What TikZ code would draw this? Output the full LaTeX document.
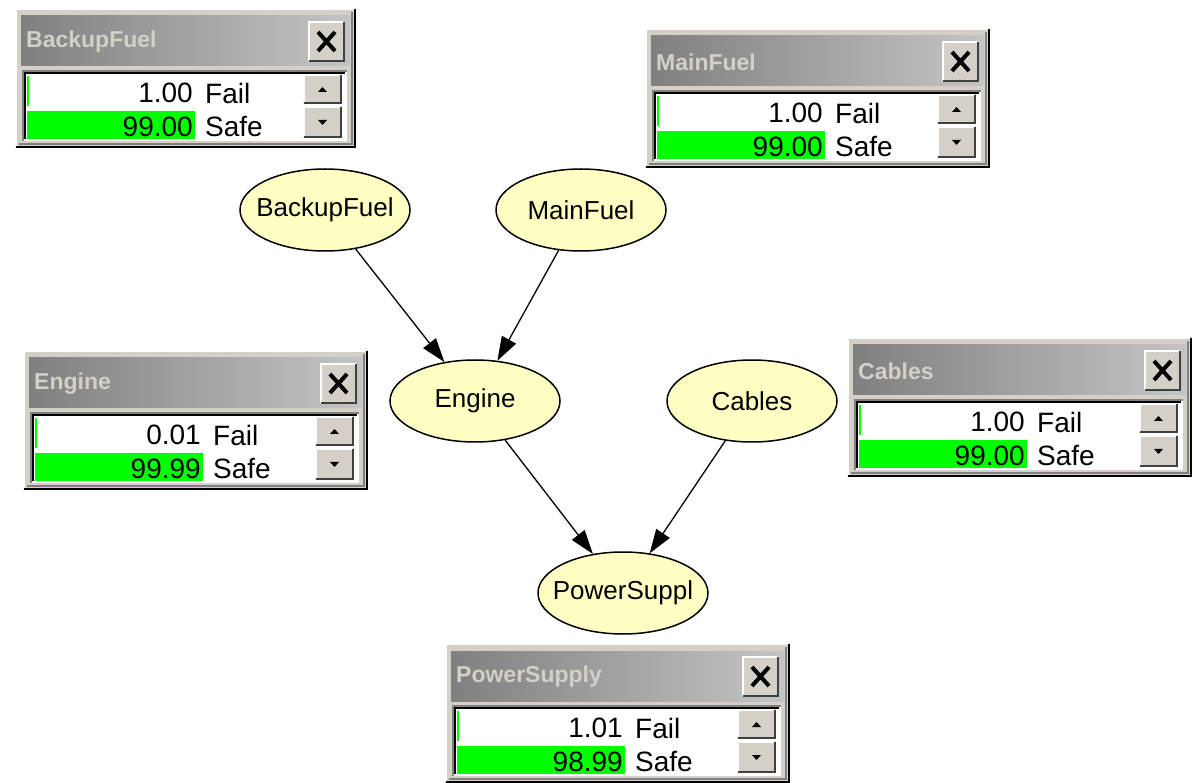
\documentclass[tikz,border=0pt]{standalone}
\usepackage{fontspec}
\setmainfont{Liberation Sans}
\usetikzlibrary{shapes.geometric,arrows.meta}
\definecolor{face}{HTML}{D4D0C8}
\definecolor{nodey}{HTML}{FFFFC4}
\definecolor{gr}{HTML}{00FF00}
\definecolor{dk}{HTML}{404040}
\definecolor{md}{HTML}{808080}
\definecolor{lt}{HTML}{C4C4C4}
\tikzset{
  bnode/.style={ellipse,draw=black,line width=1.5,fill=nodey,minimum width=170,minimum height=82,inner xsep=-14,inner ysep=0,font=\fontsize{26}{28}\selectfont},
  link/.style={line width=1.3,-{Triangle[length=24,width=16]}},
  titletext/.style={anchor=west,inner sep=0,text=face,font=\fontsize{23}{25}\selectfont\bfseries},
  valtext/.style={anchor=east,inner sep=0,font=\fontsize{28}{30}\selectfont},
  statetext/.style={anchor=west,inner sep=0,font=\fontsize{28}{30}\selectfont},
}
\newcommand\raisedbtn[4]{%
  \fill[face] (#1,#2) rectangle (#3,#4);
  \draw[white,line width=2] (#1+1,#4-1)--(#1+1,#2+1)--(#3-1,#2+1);
  \draw[dk,line width=2] (#1+1,#4-1)--(#3-1,#4-1)--(#3-1,#2+1);
}
\newcommand\netwin[7]{%
\begin{scope}[shift={(#2,#3)}]
  \fill[face] (0,0) rectangle (#7,140);
  \draw[white,line width=2] (1,139)--(1,1)--(#7-1,1);
  \draw[black,line width=2] (1,139)--(#7-1,139)--(#7-1,1);
  \draw[md,line width=1.5] (4,136)--(#7-4,136)--(#7-4,4);
  \shade[left color=md,right color=lt] (6,8) rectangle (#7-6,58);
  \node[titletext] (#1-title) at (11,34) {#4};
  \raisedbtn{#7-48}{13}{#7-11}{54}
  \draw[black,line width=4] (#7-38,24)--(#7-21,43) (#7-38,43)--(#7-21,24);
  \fill[white] (8,63) rectangle (#7-9,133);
  \draw[md,line width=2] (8,133)--(8,63)--(#7-9,63);
  \draw[black,line width=2] (10,131)--(10,65)--(#7-11,65);
  \fill[gr] (12,68) rectangle (14,98);
  \fill[gr] (12,103) rectangle (180,131);
  \node[valtext] (#1-fv) at (178,85) {#5};
  \node[statetext] (#1-fs) at (190,85) {Fail};
  \node[valtext] (#1-sv) at (178,119) {#6};
  \node[statetext] (#1-ss) at (190,119) {Safe};
  \raisedbtn{#7-53}{66}{#7-14}{96}
  \raisedbtn{#7-53}{98}{#7-14}{130}
  \fill[black] (#7-38,84)--(#7-29,84)--(#7-33.5,79)--cycle;
  \fill[black] (#7-38,112)--(#7-29,112)--(#7-33.5,117)--cycle;
\end{scope}}
\begin{document}
\begin{tikzpicture}[x=1pt,y=-1pt]
  \useasboundingbox (0,0) rectangle (1195,783);
  \fill[white] (0,0) rectangle (1195,783);
  \begin{scope}
  \clip (0,0) rectangle (1195,783);
  \netwin{bfw}{15}{8}{BackupFuel}{1.00}{99.00}{341}
  \netwin{mfw}{645}{28}{MainFuel}{1.00}{99.00}{345}
  \netwin{enw}{23}{350}{Engine}{0.01}{99.99}{345}
  \netwin{cbw}{847}{337}{Cables}{1.00}{99.00}{345}
  \netwin{psw}{445}{643}{PowerSupply}{1.01}{98.99}{345}
  \end{scope}
  \node[bnode] (bf) at (325,210) {BackupFuel};
  \node[bnode] (mf) at (581,210) {MainFuel};
  \node[bnode] (en) at (475,401) {Engine};
  \node[bnode] (cb) at (752,401) {Cables};
  \node[bnode] (ps) at (623,593) {PowerSuppl};
  \draw[link] (bf) -- (en);
  \draw[link] (mf) -- (en);
  \draw[link] (en) -- (ps);
  \draw[link] (cb) -- (ps);
\end{tikzpicture}
\end{document}
